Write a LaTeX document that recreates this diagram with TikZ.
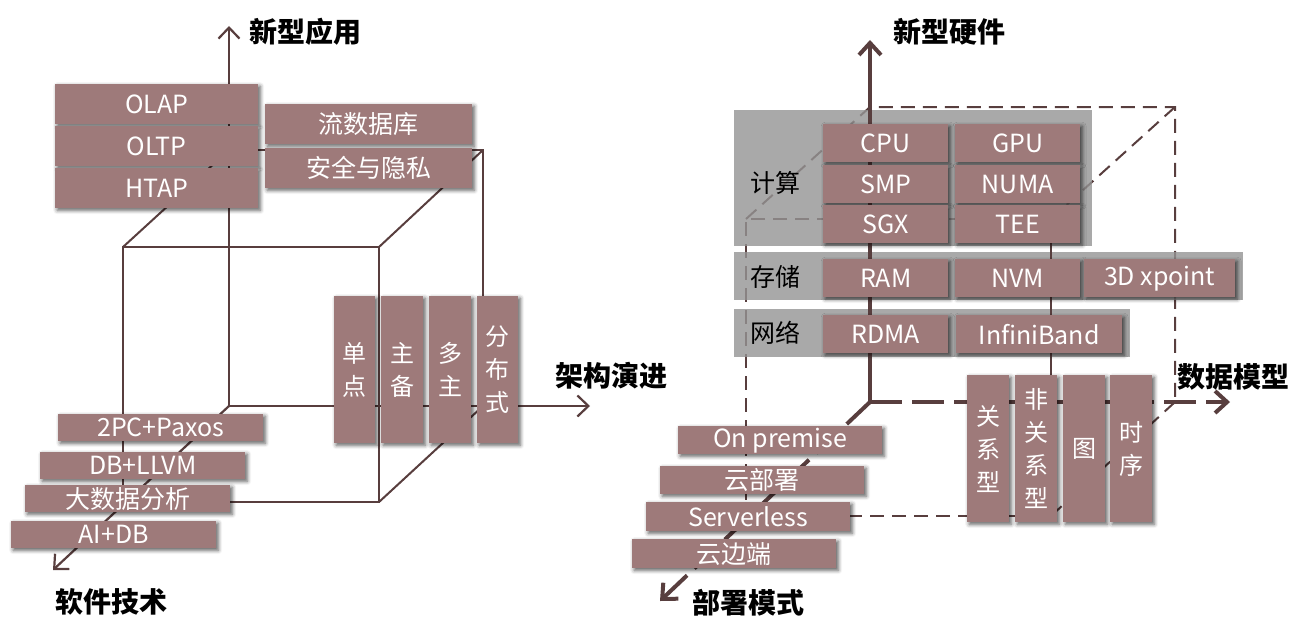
\documentclass[tikz,border=0pt]{standalone}
\usepackage{fontspec}
\setmainfont{Noto Sans CJK SC}
\usetikzlibrary{arrows.meta,shadows.blur}
\definecolor{boxc}{RGB}{158,122,122}
\definecolor{linec}{RGB}{88,62,62}
\definecolor{panelc}{RGB}{148,148,148}
\begin{document}
\begin{tikzpicture}[x=1pt,y=-1pt,
  bx/.style={fill=boxc,text=white,inner sep=0pt,anchor=north west,
    font=\fontsize{25}{30}\selectfont,
    blur shadow={shadow xshift=2pt,shadow yshift=-2pt,shadow blur radius=4pt,shadow opacity=65}},
  vbx/.style={bx,align=center,font=\fontsize{24}{33}\selectfont},
  panel/.style={fill=panelc,fill opacity=0.8,inner sep=0pt,anchor=north west},
  plbl/.style={font=\fontsize{25}{30}\selectfont,text=black,inner sep=0pt},
  lbl/.style={font=\fontsize{28}{30}\selectfont\bfseries,anchor=west,inner sep=0pt},
  cubeL/.style={draw=linec,line width=2pt},
  axisL/.style={draw=linec,line width=2.2pt,-{Straight Barb[length=11pt,width=21pt,line width=2.2pt]}},
  cubeR/.style={draw=linec,line width=2pt,dash pattern=on 14pt off 8pt},
  axisRs/.style={draw=linec,line width=4pt,-{Straight Barb[length=12pt,width=22pt,line width=4pt]}},
  axisRd/.style={axisRs,dash pattern=on 32pt off 10pt},
]
\useasboundingbox (0,0) rectangle (1292,618);

% ===== left diagram =====
\coordinate (LO) at (229,406);
\coordinate (LU) at (229,26);
\coordinate (LR) at (590,406);
\coordinate (LD) at (53,570);
\coordinate (A1) at (123,247); \coordinate (A2) at (379,247);
\coordinate (A3) at (379,502); \coordinate (A4) at (123,502);
\coordinate (C1) at (229,150); \coordinate (C2) at (483,150);
\coordinate (C3) at (483,406);

\draw[cubeL] (A1) -- (A2) -- (A3) -- (A4) -- cycle;
\draw[cubeL] (C1) -- (C2) -- (C3);
\draw[cubeL] (C1) -- (A1);
\draw[cubeL] (C2) -- (A2);
\draw[cubeL] (C3) -- (A3);
\draw[axisL] (LO) -- (LU);
\draw[axisL] (LO) -- (LR);
\draw[axisL] (LO) -- (LD);

\node[lbl] (tApp) at (249,32) {新型应用};
\node[lbl] (tArch) at (555,376) {架构演进};
\node[lbl] (tSoft) at (55,602) {软件技术};

\node[bx,minimum width=203pt,minimum height=40pt] (olap) at (55,84) {OLAP};
\node[bx,minimum width=203pt,minimum height=40pt] (oltp) at (55,126) {OLTP};
\node[bx,minimum width=203pt,minimum height=40pt] (htap) at (55,168) {HTAP};
\node[bx,minimum width=207pt,minimum height=40pt] (stream) at (265,104) {流数据库};
\node[bx,minimum width=207pt,minimum height=40pt] (secu) at (265,148) {安全与隐私};

\node[vbx,minimum width=41pt,minimum height=147pt] (dandian) at (334,296) {单\\点};
\node[vbx,minimum width=42pt,minimum height=147pt] (zhubei) at (381,296) {主\\备};
\node[vbx,minimum width=42pt,minimum height=147pt] (duozhu) at (429,296) {多\\主};
\node[vbx,minimum width=41pt,minimum height=147pt] (fbs) at (477,296) {分\\布\\式};

\node[bx,minimum width=205pt,minimum height=27pt] (paxos) at (58,414) {2PC+Paxos};
\node[bx,minimum width=205pt,minimum height=27pt] (llvm) at (40,452) {DB+LLVM};
\node[bx,minimum width=205pt,minimum height=27pt] (bigdata) at (25,485) {大数据分析};
\node[bx,minimum width=205pt,minimum height=27pt] (aidb) at (11,521) {AI+DB};

% ===== right diagram =====
\coordinate (RO) at (870,402);
\coordinate (RU) at (870,40);
\coordinate (RR) at (1230,402);
\coordinate (RD) at (660,601);
\coordinate (B1) at (870,107); \coordinate (B2) at (1175,107);
\coordinate (B3) at (1175,402);
\coordinate (F1) at (746,219); \coordinate (F2) at (1051,219);
\coordinate (F3) at (1051,516); \coordinate (F4) at (746,516);

\draw[cubeR] (F1) -- (B1) -- (B2) -- (B3);
\draw[cubeR] (B2) -- (F2);
\draw[cubeR] (B3) -- (F3);
\draw[cubeR] (F2) -- (F1) -- (F4) -- (F3);

\node[panel,minimum width=358pt,minimum height=136pt] (pcomp) at (734,110) {};
\node[panel,minimum width=509pt,minimum height=48pt] (pstor) at (734,252) {};
\node[panel,minimum width=396pt,minimum height=48pt] (pnet) at (734,309) {};

\draw[draw=linec,line width=2pt] (F2) -- (F3);
\draw[axisRs] (RO) -- (RU);
\draw[axisRd] (RO) -- (RR);
\draw[axisRd] (RO) -- (RD);

\node[plbl] (lcomp) at (775,183) {计算};
\node[plbl] (lstor) at (775,277) {存储};
\node[plbl] (lnet) at (775,333) {网络};

\node[lbl] (tHw) at (893,32) {新型硬件};
\node[lbl] (tData) at (1177,377) {数据模型};
\node[lbl] (tDep) at (692,603) {部署模式};

\node[bx,minimum width=125pt,minimum height=38pt] (cpu) at (823,124) {CPU};
\node[bx,minimum width=125pt,minimum height=38pt] (gpu) at (955,124) {GPU};
\node[bx,minimum width=125pt,minimum height=38pt] (smp) at (823,165) {SMP};
\node[bx,minimum width=125pt,minimum height=38pt] (numa) at (955,165) {NUMA};
\node[bx,minimum width=125pt,minimum height=38pt] (sgx) at (823,205) {SGX};
\node[bx,minimum width=125pt,minimum height=38pt] (tee) at (955,205) {TEE};
\node[bx,minimum width=125pt,minimum height=38pt] (ram) at (823,259) {RAM};
\node[bx,minimum width=125pt,minimum height=38pt] (nvm) at (955,259) {NVM};
\node[bx,minimum width=151pt,minimum height=38pt] (xpoint) at (1084,259) {3D xpoint};
\node[bx,minimum width=125pt,minimum height=38pt] (rdma) at (823,315) {RDMA};
\node[bx,minimum width=166pt,minimum height=38pt] (ib) at (956,315) {InfiniBand};

\node[vbx,minimum width=42pt,minimum height=147pt] (rel) at (967,375) {关\\系\\型};
\node[vbx,minimum width=42pt,minimum height=147pt] (nonrel) at (1015,375) {非\\关\\系\\型};
\node[vbx,minimum width=42pt,minimum height=147pt] (graph) at (1063,375) {图};
\node[vbx,minimum width=42pt,minimum height=147pt] (tseries) at (1110,375) {时\\序};

\node[bx,minimum width=204pt,minimum height=28pt] (onprem) at (678,426) {On premise};
\node[bx,minimum width=204pt,minimum height=28pt] (cloud) at (660,466) {云部署};
\node[bx,minimum width=204pt,minimum height=29pt] (srvless) at (646,502) {Serverless};
\node[bx,minimum width=204pt,minimum height=29pt] (cedge) at (632,539) {云边端};
\end{tikzpicture}
\end{document}
